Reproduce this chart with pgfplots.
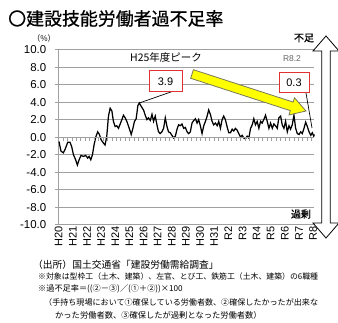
\documentclass[border=0pt]{standalone}
\usepackage{fontspec}
\setmainfont{Liberation Sans}
\newfontfamily\jp{Noto Sans CJK JP}
\newfontfamily\jpb[FakeBold=1.2]{Noto Sans CJK JP}
\newfontfamily\jpt[FakeBold=0.7]{Noto Sans CJK JP}
\usepackage{pgfplots}
\pgfplotsset{compat=1.18}
\definecolor{gridc}{RGB}{160,160,160}
\definecolor{boxred}{RGB}{225,50,50}
\definecolor{arrowy}{RGB}{255,255,0}
\definecolor{arrowedge}{RGB}{120,120,90}

\pgfplotstableread{
t v
0.02 -0.5
0.16 -1.6
0.33 -1.8
0.45 -1.4
0.64 -0.6
0.80 -0.6
0.92 -1.1
1.04 -2.0
1.20 -2.6
1.32 -3.2
1.44 -2.6
1.58 -2.1
1.75 -2.2
1.91 -2.1
2.05 -2.4
2.15 -2.2
2.27 -2.6
2.39 -2.0
2.50 -0.9
2.62 0.0
2.76 0.6
2.88 0.3
3.00 -0.3
3.17 -0.7
3.28 -0.9
3.40 0.1
3.52 2.4
3.64 3.3
3.76 3.0
3.87 1.8
3.99 1.2
4.11 1.3
4.23 1.0
4.35 1.5
4.47 2.0
4.58 2.5
4.70 2.2
4.82 1.8
4.99 1.0
5.13 0.3
5.25 1.0
5.36 1.8
5.48 2.1
5.60 3.6
5.70 3.9
5.84 3.5
6.00 3.1
6.12 2.5
6.24 2.0
6.35 2.2
6.48 1.9
6.60 2.6
6.71 1.8
6.83 2.4
6.95 1.4
7.06 0.6
7.18 0.4
7.30 0.6
7.42 1.0
7.54 2.2
7.66 1.2
7.77 0.6
7.89 0.5
8.01 0.2
8.13 -0.1
8.25 0.1
8.37 0.9
8.48 1.4
8.60 1.3
8.72 1.5
8.84 1.0
8.96 1.1
9.08 0.6
9.19 0.4
9.31 0.6
9.43 1.6
9.55 1.9
9.67 2.1
9.79 1.6
9.90 2.0
10.02 1.3
10.14 0.4
10.26 1.3
10.38 1.8
10.50 2.4
10.61 3.1
10.73 2.6
10.85 1.8
10.96 1.4
11.09 1.6
11.21 1.3
11.32 1.8
11.44 1.0
11.56 2.0
11.67 2.4
11.79 2.0
11.91 1.2
12.03 0.5
12.15 0.5
12.27 0.9
12.38 0.7
12.50 1.0
12.62 0.8
12.74 0.4
12.86 0.0
12.98 0.2
13.09 -0.1
13.21 -0.2
13.33 0.1
13.45 -0.1
13.57 1.0
13.69 1.4
13.80 2.1
13.92 1.4
14.04 1.8
14.16 1.0
14.28 1.8
14.39 1.6
14.51 2.0
14.63 2.5
14.75 1.8
14.87 1.0
14.99 1.6
15.11 1.0
15.22 1.5
15.34 1.3
15.46 1.0
15.57 2.2
15.70 2.4
15.81 1.4
15.93 1.0
16.05 1.8
16.17 0.6
16.29 1.3
16.40 0.9
16.52 1.4
16.64 2.5
16.76 1.0
16.88 0.4
17.00 0.3
17.12 0.6
17.23 0.4
17.35 1.0
17.47 1.7
17.59 1.2
17.71 0.6
17.83 0.2
17.94 0.5
18.04 0.1
18.08 0.3
}\datatable

\begin{document}
\begin{tikzpicture}
\useasboundingbox (0,0) rectangle (338bp,323bp);
% main axis
\begin{axis}[
  at={(58.7bp,98.4bp)}, anchor=south west,
  scale only axis, width=255.6bp, height=175bp,
  xmin=0, xmax=18.08, ymin=-10, ymax=10,
  axis x line*=bottom, axis y line*=left,
  axis line style={gridc, line width=0.8pt},
  xtick={0,1,...,18},
  xticklabels={H20,H21,H22,H23,H24,H25,H26,H27,H28,H29,H30,H31,R2,R3,R4,R5,R6,R7,R8},
  xtick style={draw=none},
  xticklabel style={rotate=90, anchor=east, font=\fontsize{11}{11}\selectfont, inner sep=1.5bp},
  ytick={-10,-8,...,10},
  yticklabels={-10.0,-8.0,-6.0,-4.0,-2.0,0.0,2.0,4.0,6.0,8.0,10.0},
  ytick align=outside, major tick length=4bp,
  ytick style={gridc, line width=0.8pt},
  yticklabel style={font=\fontsize{11.5}{11.5}\selectfont, xshift=-5bp},
  ymajorgrids, grid style={gridc, line width=0.8pt},
  clip=false,
]
\addplot[black, line width=1.25pt] table[x=t, y=v] {\datatable};
\end{axis}
% tick marks on the zero line
\begin{axis}[
  at={(58.7bp,98.4bp)}, anchor=south west,
  scale only axis, width=255.6bp, height=175bp,
  xmin=0, xmax=18.08, ymin=-10, ymax=10,
  axis x line*=middle, axis y line=none,
  axis line style={gridc, line width=0.8pt},
  xtick={0.314,0.628,...,18.0},
  xticklabels={},
  xtick align=outside, major tick length=3.5bp,
  xtick style={gridc, line width=0.8pt},
]
\end{axis}
% title
\node[anchor=west, inner sep=0] at (8bp,304.5bp) {\jpt\fontsize{18}{18}\selectfont 〇建設技能労働者過不足率};
% units
\node[inner sep=0] at (44bp,285bp) {\jp\fontsize{8}{8}\selectfont （\%）};
% labels on the right
\node[inner sep=0] at (304bp,285bp) {\jpb\fontsize{10}{10}\selectfont 不足};
\node[inner sep=0] at (301bp,109bp) {\jpb\fontsize{10}{10}\selectfont 過剰};
% double hollow arrow
\draw[black, line width=0.8pt, fill=white]
  (326bp,287bp) -- (339bp,272bp) -- (330.2bp,272bp) -- (330.2bp,100bp) -- (339bp,100bp)
  -- (326bp,85bp) -- (313bp,100bp) -- (321.8bp,100bp) -- (321.8bp,272bp) -- (313bp,272bp) -- cycle;
% yellow arrow
\draw[arrowedge, line width=0.8pt, fill=arrowy]
  (190.61bp,244.72bp) -- (290.34bp,212.35bp) -- (288.95bp,208.07bp) -- (306bp,212bp)
  -- (294.51bp,225.19bp) -- (293.12bp,220.91bp) -- (193.39bp,253.28bp) -- cycle;
% annotations
\node[inner sep=0] at (166bp,265bp) {\jp\fontsize{10.5}{10.5}\selectfont H25年度ピーク};
\node[inner sep=0, text=black!60] at (292bp,264bp) {\fontsize{8.5}{8.5}\selectfont R8.2};
\draw[black, line width=0.7pt] (171.7bp,231.3bp) -- (139.3bp,220bp);
\draw[boxred, line width=1pt, fill=white] (149bp,231bp) rectangle (182bp,252bp);
\node[inner sep=0] at (165.5bp,241.5bp) {\fontsize{11}{11}\selectfont 3.9};
\draw[black, line width=0.7pt] (306bp,230bp) -- (312bp,195bp);
\draw[boxred, line width=1pt, fill=white] (279bp,230bp) rectangle (309bp,250bp);
\node[inner sep=0] at (294bp,240bp) {\fontsize{11}{11}\selectfont 0.3};
% footnotes
\node[anchor=west, inner sep=0] at (33bp,58bp) {\jp\fontsize{9.8}{9.8}\selectfont （出所）国土交通省「建設労働需給調査」};
\node[anchor=west, inner sep=0] at (38bp,46bp) {\jp\fontsize{7.9}{7.9}\selectfont ※対象は型枠工（土木、建築）、左官、とび工、鉄筋工（土木、建築）の6職種};
\node[anchor=west, inner sep=0] at (38bp,34bp) {\jp\fontsize{8.2}{8.2}\selectfont ※過不足率＝((②－③)／(①＋②))×100};
\node[anchor=west, inner sep=0] at (44bp,21bp) {\jp\fontsize{8.1}{8.1}\selectfont （手持ち現場において①確保している労働者数、②確保したかったが出来な};
\node[anchor=west, inner sep=0] at (55bp,8bp) {\jp\fontsize{8.3}{8.3}\selectfont かった労働者数、③確保したが過剰となった労働者数）};
\end{tikzpicture}
\end{document}
